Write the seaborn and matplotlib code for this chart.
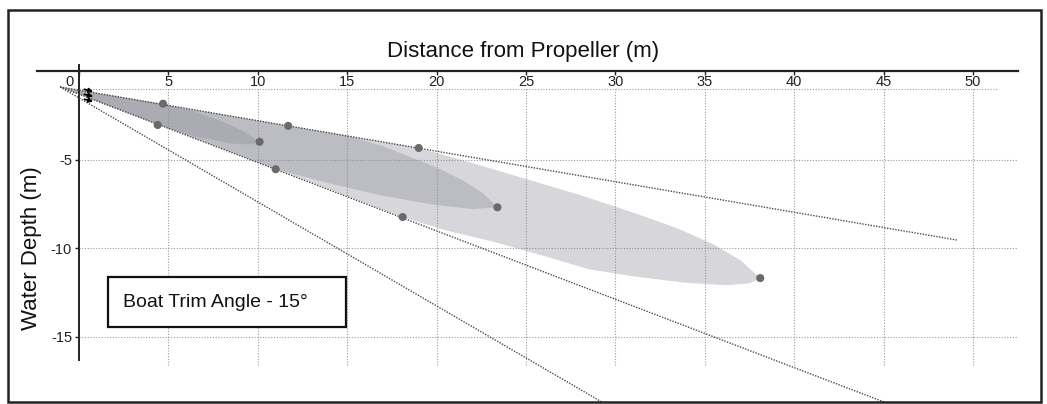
import matplotlib
matplotlib.use("Agg")
import numpy as np
import pandas as pd
import seaborn as sns
import matplotlib.pyplot as plt
from matplotlib.patches import Rectangle, Polygon

# ---------------- data ----------------
x_ticks = [0, 5, 10, 15, 20, 25, 30, 35, 40, 45, 50]
x_tick_labels = ["0", "5", "10", "15", "20", "25", "30", "35", "40", "45", "50"]
y_ticks = [-5, -10, -15]
y_tick_labels = ["-5", "-10", "-15"]
y_grid = [-1, -5, -10, -15]

origin_x, origin_y = -1.06, -0.9

# dotted rays from the propeller (end points)
ray_end_x = [49.1, 47.1, 30.6]
ray_end_y = [-9.55, -19.5, -19.5]

# plume outlines: upper edge and lower edge after leaving the rays
big_upper_x = [19.0, 22.0, 25.0, 28.0, 31.0, 33.5, 35.5, 37.0, 38.1]
big_upper_y = [-4.35, -5.2, -6.1, -7.0, -8.0, -8.9, -9.8, -10.7, -11.7]
big_lower_x = [18.1, 20.5, 23.2, 26.0, 28.5, 31.0, 33.8, 36.2, 37.5, 38.1]
big_lower_y = [-8.25, -9.0, -9.65, -10.45, -11.2, -11.6, -11.95, -12.1, -12.0, -11.7]

mid_upper_x = [11.7, 15.2, 17.0, 18.5, 20.0, 21.5, 22.6, 23.4]
mid_upper_y = [-3.1, -3.7, -4.25, -4.85, -5.45, -6.2, -6.9, -7.7]
mid_lower_x = [11.0, 14.0, 17.0, 19.8, 22.0, 23.4]
mid_lower_y = [-5.55, -6.35, -7.05, -7.55, -7.8, -7.7]

small_upper_x = [4.7, 6.5, 8.0, 9.2, 10.1]
small_upper_y = [-1.85, -2.3, -2.85, -3.4, -4.0]
small_lower_x = [4.4, 6.5, 8.5, 9.6, 10.1]
small_lower_y = [-3.05, -3.7, -4.1, -4.15, -4.0]

dot_x = [4.7, 4.4, 10.1, 11.7, 11.0, 23.4, 19.0, 18.1, 38.1]
dot_y = [-1.85, -3.05, -4.0, -3.1, -5.55, -7.7, -4.35, -8.25, -11.7]

box_text = "Boat Trim Angle - 15°"
title_text = "Distance from Propeller (m)"
ylabel_text = "Water Depth (m)"

# ---------------- figure ----------------
sns.set_style("white")
plt.rcParams["font.family"] = ["Liberation Sans", "DejaVu Sans"]

W, H = 1047, 404
fig = plt.figure(figsize=(W / 100, H / 100), dpi=100)
ax = fig.add_axes([37 / W, 2 / H, (1017.7 - 37) / W, 331 / H])
ax.set_xlim(-2.35, 52.5)
ax.set_ylim(-18.7, 0)
ax.set_facecolor("white")

# spines
for s in ["right", "bottom"]:
    ax.spines[s].set_visible(False)
ax.spines["top"].set_linewidth(1.6)
ax.spines["top"].set_color("#222222")
ax.spines["left"].set_position(("data", 0))
ax.spines["left"].set_bounds(-16.3, 0.35)
ax.spines["left"].set_linewidth(1.4)
ax.spines["left"].set_color("#222222")

# ticks
ax.set_yticks(y_ticks)
ax.set_yticklabels(y_tick_labels)
ax.tick_params(axis="y", direction="out", length=3, width=1, pad=2,
               labelsize=10.5, colors="#222222", left=True)
ax.set_xticks(x_ticks)
ax.set_xticklabels([])
ax.tick_params(axis="x", bottom=False, top=True, direction="in", length=3,
               width=1, colors="#222222", labelbottom=False, labeltop=False)
for v, lbl in zip(x_ticks, x_tick_labels):
    if v == 0:
        ax.text(v - 0.3, -0.62, lbl, ha="right", va="center", fontsize=10.5,
                color="#222222")
    else:
        ax.text(v, -0.62, lbl, ha="center", va="center", fontsize=10.5,
                color="#222222")

# grid (dotted)
grid_kw = dict(colors="#9a9a9a", linestyles=(0, (1, 1.5)), linewidth=0.8, zorder=1)
ax.vlines(x_ticks[1:], -16.6, -1, **grid_kw)
ax.hlines(y_grid[:1], 0, 51.4, **grid_kw)
ax.hlines(y_grid[1:], 0, 52.5, **grid_kw)

# plumes
def plume(ux, uy, lx, ly):
    xs = [origin_x] + ux + lx[::-1]
    ys = [origin_y] + uy + ly[::-1]
    return np.column_stack([xs, ys])

for ux, uy, lx, ly in [
    (big_upper_x, big_upper_y, big_lower_x, big_lower_y),
    (mid_upper_x, mid_upper_y, mid_lower_x, mid_lower_y),
    (small_upper_x, small_upper_y, small_lower_x, small_lower_y),
]:
    ax.add_patch(Polygon(plume(ux, uy, lx, ly), closed=True,
                         facecolor="#8c8c98", edgecolor="none", alpha=0.35,
                         zorder=2))

# dotted rays
for ex, ey in zip(ray_end_x, ray_end_y):
    df = pd.DataFrame({"x": [origin_x, ex], "y": [origin_y, ey]})
    sns.lineplot(data=df, x="x", y="y", ax=ax, color="#4a4a4a",
                 linestyle=(0, (1, 1)), linewidth=1.0, sort=False, zorder=3)

# dots
sns.scatterplot(x=dot_x, y=dot_y, ax=ax, s=34, color="#6a6a6a",
                edgecolor="none", zorder=4)

# propeller arrows
for k in range(3):
    ax.annotate("", xy=(0.95, -1.2 - 0.28 * k), xytext=(0.15, -1.0 - 0.28 * k),
                arrowprops=dict(arrowstyle="-|>", color="black", lw=1.3,
                                mutation_scale=6), zorder=5)

# label box
ax.add_patch(Rectangle((1.62, -14.46), 13.31, 2.82, facecolor="white",
                       edgecolor="#111111", linewidth=1.6, zorder=5))
ax.text(2.46, -13.1, box_text, ha="left", va="center", fontsize=14,
        color="#111111", zorder=6)

ax.set_xlabel("")
ax.set_ylabel("")

# titles
fig.text(523 / W, 1 - 51 / H, title_text, ha="center", va="center",
         fontsize=16, color="#111111")
fig.text(32 / W, 1 - 248 / H, ylabel_text, ha="center", va="center",
         rotation=90, fontsize=16, color="#111111")

# outer frame
fig.add_artist(Rectangle((8 / W, 2 / H), (1041 - 8) / W, (402 - 10) / H,
                         transform=fig.transFigure, fill=False,
                         edgecolor="#222222", linewidth=1.8))

fig.savefig("out.png", dpi=100)
